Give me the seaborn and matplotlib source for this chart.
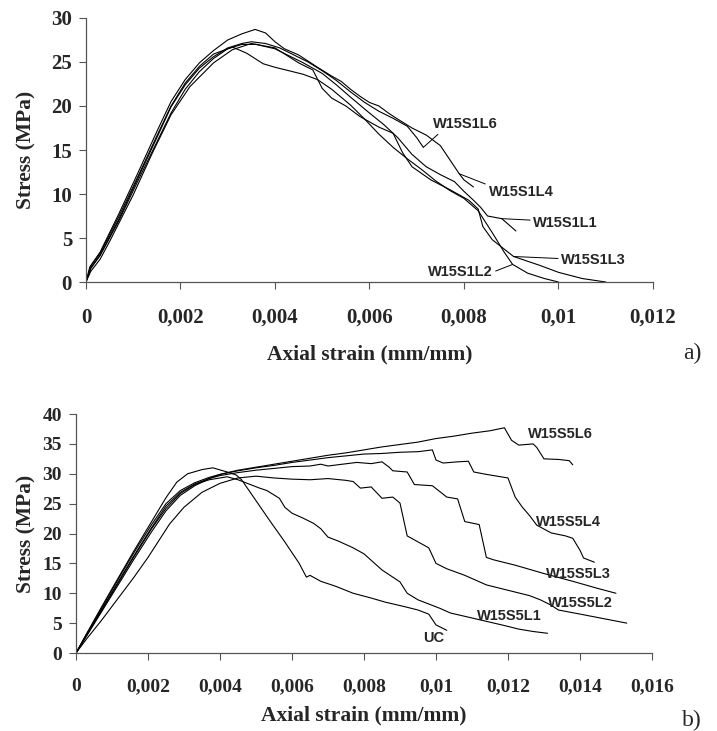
import pandas as pd
import seaborn as sns
import matplotlib.pyplot as plt

# ---- data ----
# a) W15S1 specimens
a_l1_x = [0, 0.0001, 0.0003, 0.0007, 0.0011, 0.0015, 0.0018, 0.0021, 0.0024, 0.0027, 0.0030, 0.0033, 0.0036, 0.0040, 0.0043, 0.0046, 0.0050, 0.0053, 0.0056, 0.0060, 0.0063, 0.0066, 0.0069, 0.0072, 0.0075, 0.0078, 0.0080, 0.0082, 0.00835, 0.0085, 0.0088, 0.0091]
a_l1_y = [0, 1.6, 3.0, 7.0, 11.5, 15.9, 19.2, 21.9, 23.9, 25.4, 26.5, 27.0, 27.0, 26.5, 25.7, 24.9, 23.7, 22.4, 21.0, 19.2, 17.9, 16.4, 14.5, 13.1, 12.2, 11.4, 10.3, 9.3, 8.5, 7.5, 7.2, 5.8]

a_l2_x = [0, 0.0001, 0.0003, 0.0007, 0.0011, 0.0015, 0.0018, 0.0021, 0.0024, 0.0027, 0.0031, 0.0034, 0.00375, 0.0040, 0.0043, 0.0046, 0.0049, 0.0052, 0.0056, 0.0059, 0.0062, 0.0065, 0.0068, 0.0071, 0.0074, 0.0077, 0.0080, 0.0083, 0.0086, 0.00885, 0.00903, 0.00935, 0.0097, 0.0100]
a_l2_y = [0, 1.8, 3.3, 7.5, 12.0, 16.6, 20.0, 22.6, 24.5, 25.9, 26.7, 26.0, 24.8, 24.4, 24.0, 23.6, 23.0, 21.9, 20.1, 18.5, 16.8, 15.3, 14.0, 12.8, 11.5, 10.4, 9.5, 8.1, 5.6, 3.4, 2.0, 1.0, 0.4, 0.0]

a_l3_x = [0, 0.0001, 0.0003, 0.0005, 0.0010, 0.0014, 0.0018, 0.0022, 0.0027, 0.0031, 0.0035, 0.0040, 0.0045, 0.0048, 0.0050, 0.0052, 0.0055, 0.0058, 0.0062, 0.0065, 0.0067, 0.0069, 0.0073, 0.0077, 0.0081, 0.0083, 0.0084, 0.0086, 0.00905, 0.0096, 0.0100, 0.0105, 0.0110]
a_l3_y = [0, 1.2, 2.6, 4.6, 9.9, 14.6, 19.0, 22.2, 24.9, 26.4, 27.1, 26.6, 24.9, 24.1, 22.0, 20.9, 20.0, 18.8, 17.6, 16.9, 14.7, 13.1, 11.6, 10.5, 9.3, 8.3, 6.3, 4.8, 2.9, 1.9, 1.1, 0.4, 0.0]

a_l4_x = [0, 0.00008, 0.0003, 0.0007, 0.0011, 0.0015, 0.0018, 0.0021, 0.0024, 0.0027, 0.0030, 0.0033, 0.00358, 0.0038, 0.0040, 0.0042, 0.0045, 0.0049, 0.0052, 0.0054, 0.0056, 0.0058, 0.0060, 0.0062, 0.0064, 0.0066, 0.0069, 0.0072, 0.0075, 0.0077, 0.0079, 0.0080, 0.0082]
a_l4_y = [0, 1.7, 3.4, 7.8, 12.4, 17.1, 20.5, 23.0, 24.9, 26.3, 27.5, 28.2, 28.7, 28.3, 27.3, 26.5, 25.8, 24.4, 23.4, 22.8, 21.9, 21.1, 20.4, 20.0, 19.2, 18.5, 17.5, 16.7, 15.5, 13.9, 12.3, 11.6, 10.8]

a_l6_x = [0, 0.0001, 0.0003, 0.0007, 0.0011, 0.0015, 0.0018, 0.0021, 0.0024, 0.0027, 0.0030, 0.0033, 0.0035, 0.0038, 0.0041, 0.0044, 0.0047, 0.0050, 0.0053, 0.0056, 0.0059, 0.0062, 0.0065, 0.0068, 0.0070, 0.00714]
a_l6_y = [0, 1.5, 3.1, 7.2, 11.8, 16.4, 19.9, 22.4, 24.3, 25.6, 26.6, 27.1, 27.3, 27.1, 26.6, 25.8, 25.0, 24.0, 22.9, 21.6, 20.4, 19.4, 18.6, 17.7, 16.4, 15.3]

# b) W15S5 specimens and unconfined control
b_uc_x = [0, 0.0003, 0.0007, 0.0011, 0.0016, 0.0021, 0.0025, 0.0028, 0.0031, 0.0035, 0.0038, 0.0042, 0.00445, 0.0046, 0.0050, 0.0054, 0.0058, 0.0062, 0.0064, 0.0065, 0.0068, 0.0072, 0.0077, 0.0082, 0.0086, 0.0091, 0.0095, 0.0098, 0.0100, 0.0103]
b_uc_y = [0, 3.3, 7.6, 11.8, 17.0, 22.0, 26.0, 28.6, 30.0, 30.7, 31.0, 30.3, 29.8, 29.0, 25.5, 22.0, 18.6, 15.0, 12.7, 13.0, 12.0, 11.2, 10.0, 9.2, 8.5, 7.8, 7.2, 6.5, 4.7, 3.8]

b_l1_x = [0, 0.0003, 0.0007, 0.0011, 0.0016, 0.0021, 0.0025, 0.0029, 0.0033, 0.0037, 0.0042, 0.0045, 0.0048, 0.0051, 0.0053, 0.00565, 0.0058, 0.0060, 0.0063, 0.0066, 0.0068, 0.0070, 0.0073, 0.0077, 0.0080, 0.0085, 0.0090, 0.0092, 0.0095, 0.0101, 0.0104, 0.0109, 0.0114, 0.0119, 0.0123, 0.0127, 0.0131]
b_l1_y = [0, 3.0, 7.0, 11.0, 16.0, 20.8, 24.2, 26.7, 28.2, 29.0, 29.5, 29.0, 28.3, 27.6, 27.2, 25.9, 24.4, 23.4, 22.6, 21.7, 20.8, 19.4, 18.7, 17.6, 16.6, 13.9, 11.9, 10.0, 8.9, 7.5, 6.7, 6.0, 5.3, 4.6, 4.0, 3.6, 3.3]

b_l2_x = [0, 0.0003, 0.0007, 0.0012, 0.0016, 0.0020, 0.0023, 0.0026, 0.0030, 0.0035, 0.0040, 0.0045, 0.0050, 0.0055, 0.0060, 0.0065, 0.0070, 0.0075, 0.0077, 0.0079, 0.0082, 0.0085, 0.0088, 0.0090, 0.0092, 0.0095, 0.0098, 0.0100, 0.0103, 0.0108, 0.0114, 0.0120, 0.0126, 0.0129, 0.0132, 0.0134, 0.0141, 0.0147, 0.0153]
b_l2_y = [0, 2.4, 5.4, 9.4, 12.6, 16.0, 18.8, 21.6, 24.4, 26.9, 28.4, 29.3, 29.6, 29.3, 29.1, 29.0, 29.2, 28.9, 28.7, 27.6, 27.8, 25.9, 26.1, 25.1, 19.6, 18.6, 17.6, 15.0, 14.1, 13.0, 11.4, 10.5, 9.6, 8.9, 8.0, 7.2, 6.4, 5.7, 5.0]

b_l3_x = [0, 0.0003, 0.0007, 0.0011, 0.0016, 0.0021, 0.0025, 0.0029, 0.0033, 0.0037, 0.0040, 0.0045, 0.0050, 0.0055, 0.0060, 0.0065, 0.0068, 0.0070, 0.0074, 0.0078, 0.0082, 0.0085, 0.0087, 0.0088, 0.0092, 0.0094, 0.0099, 0.0103, 0.0106, 0.0108, 0.0112, 0.0114, 0.0116, 0.0122, 0.0130, 0.0138, 0.0145, 0.0150]
b_l3_y = [0, 3.1, 7.1, 11.2, 16.2, 21.0, 24.6, 26.9, 28.3, 29.2, 29.7, 30.2, 30.6, 30.9, 31.2, 31.3, 31.6, 31.3, 31.6, 31.9, 31.7, 32.0, 31.1, 30.5, 30.3, 28.2, 28.0, 26.1, 25.8, 22.0, 21.5, 16.0, 15.6, 14.7, 13.3, 12.0, 10.8, 10.0]

b_l4_x = [0, 0.0003, 0.0007, 0.0011, 0.0016, 0.0021, 0.0025, 0.0029, 0.0033, 0.0037, 0.0040, 0.0045, 0.0050, 0.0055, 0.0060, 0.0065, 0.0070, 0.0075, 0.0080, 0.0085, 0.0090, 0.0095, 0.0099, 0.0100, 0.0102, 0.0106, 0.0109, 0.01105, 0.0114, 0.0118, 0.0120, 0.0122, 0.0124, 0.0126, 0.0128, 0.0132, 0.0136, 0.0138, 0.0140, 0.0141, 0.0144]
b_l4_y = [0, 3.2, 7.4, 11.6, 16.7, 21.5, 25.0, 27.2, 28.5, 29.4, 29.9, 30.5, 31.0, 31.4, 31.9, 32.3, 32.7, 33.0, 33.3, 33.4, 33.6, 33.7, 34.0, 32.3, 31.8, 32.0, 32.1, 30.3, 29.9, 29.5, 29.3, 26.1, 24.4, 23.0, 21.4, 20.1, 19.6, 19.2, 17.2, 15.9, 15.2]

b_l6_x = [0, 0.0003, 0.0007, 0.0011, 0.0016, 0.0021, 0.0025, 0.0029, 0.0033, 0.0037, 0.0040, 0.0045, 0.0050, 0.0055, 0.0060, 0.0065, 0.0070, 0.0075, 0.0080, 0.0085, 0.0090, 0.0095, 0.0100, 0.0105, 0.0110, 0.0115, 0.0119, 0.0121, 0.0123, 0.0127, 0.0128, 0.0130, 0.0134, 0.0137, 0.0138]
b_l6_y = [0, 2.9, 6.8, 10.7, 15.6, 20.3, 23.8, 26.4, 28.0, 29.2, 29.9, 30.6, 31.1, 31.6, 32.1, 32.6, 33.1, 33.5, 34.0, 34.5, 34.9, 35.3, 35.9, 36.3, 36.8, 37.2, 37.7, 35.6, 34.8, 35.0, 34.4, 32.5, 32.4, 32.2, 31.5]

a_xticks = [0, 0.002, 0.004, 0.006, 0.008, 0.010, 0.012]
a_yticks = [0, 5, 10, 15, 20, 25, 30]
b_xticks = [0, 0.002, 0.004, 0.006, 0.008, 0.010, 0.012, 0.014, 0.016]
b_yticks = [0, 5, 10, 15, 20, 25, 30, 35, 40]


def long_df(curves):
    parts = []
    for name, xs, ys in curves:
        parts.append(pd.DataFrame({'strain': xs, 'stress': ys, 'specimen': name}))
    return pd.concat(parts, ignore_index=True)


df_a = long_df([('W15S1L1', a_l1_x, a_l1_y), ('W15S1L2', a_l2_x, a_l2_y),
                ('W15S1L3', a_l3_x, a_l3_y), ('W15S1L4', a_l4_x, a_l4_y),
                ('W15S1L6', a_l6_x, a_l6_y)])
df_b = long_df([('UC', b_uc_x, b_uc_y), ('W15S5L1', b_l1_x, b_l1_y),
                ('W15S5L2', b_l2_x, b_l2_y), ('W15S5L3', b_l3_x, b_l3_y),
                ('W15S5L4', b_l4_x, b_l4_y), ('W15S5L6', b_l6_x, b_l6_y)])

sns.set_style('ticks')
plt.rcParams['font.family'] = ['Liberation Serif', 'DejaVu Serif']

fig = plt.figure(figsize=(7.17, 7.31), dpi=100)
ax1 = fig.add_axes([0.1199, 0.6142, 0.7908, 0.3612])
ax2 = fig.add_axes([0.1060, 0.1067, 0.8033, 0.3269])


def fmt(v):
    return f'{v:g}'.replace('.', ',')


def style_axes(ax, xticks, yticks, size, xpad):
    ax.set_xlim(xticks[0], xticks[-1])
    ax.set_ylim(yticks[0], yticks[-1])
    ax.set_xticks(xticks, labels=[fmt(v) for v in xticks], fontweight='bold')
    ax.set_yticks(yticks, labels=[fmt(v) for v in yticks], fontweight='bold')
    ax.tick_params(axis='both', direction='out', length=5, width=0.8,
                   color='#555555', labelsize=size)
    ax.tick_params(axis='x', pad=xpad)
    ax.tick_params(axis='y', pad=5)
    sns.despine(ax=ax)
    for side in ['left', 'bottom']:
        ax.spines[side].set_color('#555555')
        ax.spines[side].set_linewidth(0.9)
    ax.set_xlabel('Axial strain (mm/mm)', fontsize=15.5, fontweight='bold')
    ax.set_ylabel('Stress (MPa)', fontsize=15.5, fontweight='bold')


sns.lineplot(data=df_a, x='strain', y='stress', units='specimen', estimator=None,
             sort=False, color='black', linewidth=0.8, legend=False, ax=ax1)
sns.lineplot(data=df_b, x='strain', y='stress', units='specimen', estimator=None,
             sort=False, color='black', linewidth=0.8, legend=False, ax=ax2)

style_axes(ax1, a_xticks, a_yticks, 15, 13.5)
style_axes(ax2, b_xticks, b_yticks, 14, 13)
ax1.xaxis.set_label_coords(0.5, -0.235)
ax1.yaxis.set_label_coords(-0.088, 0.5)
ax2.xaxis.set_label_coords(0.5, -0.218)
ax2.yaxis.set_label_coords(-0.069, 0.5)

lab = dict(family=['Liberation Sans', 'DejaVu Sans'], fontweight='bold', fontsize=10.5)
line = dict(arrowstyle='-', color='black', lw=0.7, shrinkA=0, shrinkB=0)

# labels with leader lines, panel a
ax1.annotate('W15S1L6', xy=(a_l6_x[-1], a_l6_y[-1]), xytext=(0.00735, 17.95),
             ha='left', va='center', arrowprops=dict(line, relpos=(0.13, 0.0)), **lab)
ax1.annotate('W15S1L4', xy=(a_l4_x[-3], a_l4_y[-3]), xytext=(0.00852, 10.2),
             ha='left', va='center', arrowprops=dict(line, relpos=(0.0, 1.0)), **lab)
ax1.annotate('W15S1L1', xy=(a_l1_x[-2], a_l1_y[-2]), xytext=(0.00947, 6.7),
             ha='left', va='center', arrowprops=dict(line, relpos=(0.0, 0.7)), **lab)
ax1.annotate('W15S1L3', xy=(a_l3_x[28], a_l3_y[28]), xytext=(0.01006, 2.5),
             ha='left', va='center', arrowprops=dict(line, relpos=(0.0, 0.6)), **lab)
ax1.annotate('W15S1L2', xy=(a_l2_x[30], a_l2_y[30]), xytext=(0.0086, 1.1),
             ha='right', va='center', arrowprops=dict(line, relpos=(1.0, 0.5)), **lab)

# labels panel b
ax2.text(0.01255, 36.7, 'W15S5L6', ha='left', va='center', **lab)
ax2.text(0.01277, 21.9, 'W15S5L4', ha='left', va='center', **lab)
ax2.text(0.01305, 13.2, 'W15S5L3', ha='left', va='center', **lab)
ax2.text(0.0131, 8.4, 'W15S5L2', ha='left', va='center', **lab)
ax2.text(0.01114, 6.2, 'W15S5L1', ha='left', va='center', **lab)
ax2.text(0.00964, 2.5, 'UC', ha='left', va='center', **lab)

fig.text(0.965, 0.517, 'a)', fontsize=17, ha='center', va='center')
fig.text(0.965, 0.015, 'b)', fontsize=17, ha='center', va='center')

fig.savefig('out.png', dpi=100)
